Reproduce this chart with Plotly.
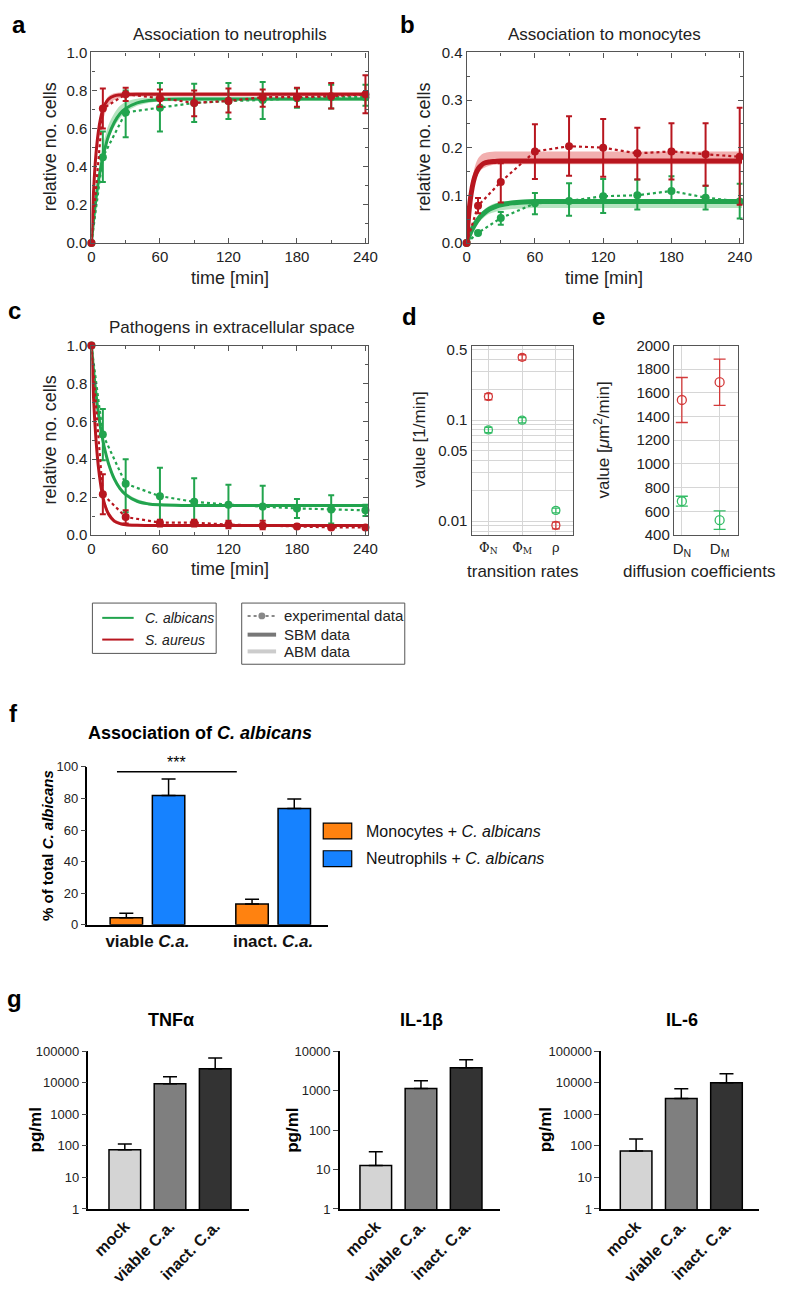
import plotly.graph_objects as go

W, H = 790, 1290
FONT = "Liberation Sans, Arial, sans-serif"

# ---------------- data ----------------
T_EXP = [0, 10, 30, 60, 90, 120, 150, 180, 210, 240]
T_MOD = [0, 2, 4, 6, 8, 10, 12, 15, 20, 25, 30, 40, 50, 60, 80, 120, 160, 200, 242]

# panel a: association to neutrophils
A_RED = [0, 0.705, 0.78, 0.76, 0.735, 0.745, 0.765, 0.765, 0.77, 0.78]
A_RED_HI = [0, 0.81, 0.815, 0.805, 0.80, 0.81, 0.805, 0.815, 0.84, 0.88]
A_RED_LO = [0, 0.60, 0.745, 0.715, 0.665, 0.685, 0.715, 0.715, 0.705, 0.68]
A_GRN = [0, 0.45, 0.685, 0.71, 0.735, 0.745, 0.75, 0.76, 0.765, 0.765]
A_GRN_HI = [0, 0.585, 0.80, 0.84, 0.835, 0.84, 0.845, 0.81, 0.83, 0.83]
A_GRN_LO = [0, 0.32, 0.555, 0.585, 0.635, 0.65, 0.65, 0.71, 0.705, 0.72]
A_RED_SBM = [0, 0.285, 0.468, 0.581, 0.654, 0.70, 0.729, 0.755, 0.772, 0.777, 0.779, 0.78, 0.78, 0.78, 0.78, 0.78, 0.78, 0.78, 0.78]
A_RED_ABM_LO = [0, 0.22, 0.39, 0.51, 0.59, 0.64, 0.68, 0.72, 0.75, 0.76, 0.765, 0.768, 0.768, 0.768, 0.768, 0.768, 0.768, 0.768, 0.768]
A_RED_ABM_HI = [0, 0.30, 0.49, 0.60, 0.67, 0.715, 0.745, 0.77, 0.785, 0.79, 0.792, 0.792, 0.792, 0.792, 0.792, 0.792, 0.792, 0.792, 0.792]
A_GRN_SBM = [0, 0.126, 0.231, 0.318, 0.389, 0.45, 0.50, 0.562, 0.632, 0.678, 0.705, 0.735, 0.747, 0.752, 0.755, 0.755, 0.755, 0.755, 0.755]
A_GRN_ABM_LO = [0, 0.12, 0.22, 0.30, 0.37, 0.43, 0.48, 0.54, 0.61, 0.655, 0.685, 0.72, 0.735, 0.742, 0.745, 0.745, 0.745, 0.745, 0.745]
A_GRN_ABM_HI = [0, 0.15, 0.27, 0.37, 0.45, 0.51, 0.56, 0.62, 0.68, 0.72, 0.74, 0.757, 0.762, 0.764, 0.765, 0.765, 0.765, 0.765, 0.765]

# panel b: association to monocytes
B_RED = [0, 0.078, 0.128, 0.192, 0.203, 0.200, 0.188, 0.192, 0.186, 0.181]
B_RED_HI = [0, 0.094, 0.167, 0.249, 0.266, 0.26, 0.242, 0.251, 0.251, 0.284]
B_RED_LO = [0, 0.062, 0.085, 0.134, 0.141, 0.139, 0.133, 0.133, 0.12, 0.08]
B_GRN = [0, 0.021, 0.052, 0.083, 0.088, 0.098, 0.100, 0.109, 0.095, 0.087]
B_GRN_HI = [0, 0.025, 0.065, 0.105, 0.125, 0.134, 0.133, 0.14, 0.12, 0.124]
B_GRN_LO = [0, 0.017, 0.038, 0.06, 0.057, 0.063, 0.07, 0.085, 0.07, 0.051]
B_RED_SBM = [0, 0.064, 0.104, 0.129, 0.145, 0.155, 0.161, 0.167, 0.170, 0.171, 0.172, 0.172, 0.172, 0.172, 0.172, 0.172, 0.172, 0.172, 0.172]
B_RED_ABM_LO = [0, 0.055, 0.092, 0.117, 0.133, 0.144, 0.151, 0.157, 0.162, 0.164, 0.165, 0.165, 0.165, 0.165, 0.165, 0.165, 0.165, 0.165, 0.165]
B_RED_ABM_HI = [0, 0.075, 0.12, 0.148, 0.166, 0.177, 0.183, 0.188, 0.191, 0.192, 0.192, 0.192, 0.192, 0.192, 0.192, 0.192, 0.192, 0.192, 0.192]
B_GRN_SBM = [0, 0.0134, 0.025, 0.034, 0.042, 0.049, 0.055, 0.062, 0.071, 0.076, 0.080, 0.084, 0.086, 0.087, 0.087, 0.087, 0.087, 0.087, 0.087]
B_GRN_ABM_LO = [0, 0.011, 0.021, 0.029, 0.036, 0.042, 0.047, 0.053, 0.061, 0.065, 0.068, 0.071, 0.072, 0.073, 0.073, 0.073, 0.073, 0.073, 0.073]
B_GRN_ABM_HI = [0, 0.016, 0.029, 0.040, 0.049, 0.056, 0.062, 0.069, 0.078, 0.083, 0.086, 0.089, 0.090, 0.091, 0.091, 0.091, 0.091, 0.091, 0.091]

# panel c: pathogens in extracellular space
C_RED = [1, 0.215, 0.095, 0.065, 0.065, 0.055, 0.05, 0.045, 0.04, 0.04]
C_RED_HI = [1, 0.32, 0.13, 0.08, 0.08, 0.075, 0.075, 0.055, 0.05, 0.05]
C_RED_LO = [1, 0.11, 0.06, 0.045, 0.045, 0.035, 0.03, 0.035, 0.03, 0.03]
C_GRN = [1, 0.53, 0.27, 0.205, 0.175, 0.16, 0.15, 0.14, 0.135, 0.13]
C_GRN_HI = [1, 0.665, 0.40, 0.355, 0.30, 0.265, 0.26, 0.19, 0.21, 0.16]
C_GRN_LO = [1, 0.395, 0.12, 0.055, 0.05, 0.055, 0.04, 0.09, 0.06, 0.1]
C_RED_SBM = [1, 0.707, 0.503, 0.365, 0.27, 0.20, 0.154, 0.11, 0.073, 0.06, 0.054, 0.051, 0.05, 0.05, 0.05, 0.05, 0.05, 0.05, 0.05]
C_RED_ABM_LO = [1, 0.69, 0.48, 0.34, 0.25, 0.185, 0.14, 0.098, 0.064, 0.052, 0.047, 0.045, 0.045, 0.045, 0.045, 0.045, 0.045, 0.045, 0.045]
C_RED_ABM_HI = [1, 0.73, 0.53, 0.39, 0.295, 0.225, 0.175, 0.128, 0.086, 0.07, 0.063, 0.059, 0.058, 0.058, 0.058, 0.058, 0.058, 0.058, 0.058]
C_GRN_SBM = [1, 0.861, 0.745, 0.648, 0.566, 0.50, 0.444, 0.376, 0.296, 0.245, 0.213, 0.178, 0.164, 0.159, 0.156, 0.155, 0.155, 0.155, 0.155]
C_GRN_ABM_LO = [1, 0.85, 0.73, 0.63, 0.55, 0.485, 0.43, 0.362, 0.285, 0.237, 0.206, 0.172, 0.158, 0.153, 0.151, 0.150, 0.150, 0.150, 0.150]
C_GRN_ABM_HI = [1, 0.87, 0.76, 0.665, 0.585, 0.52, 0.462, 0.394, 0.312, 0.26, 0.226, 0.19, 0.172, 0.167, 0.163, 0.162, 0.162, 0.162, 0.162]

# panel d: transition rates
D_TICKS = ["Φ<sub>N</sub>", "Φ<sub>M</sub>", "ρ"]
D_RED = [0.171, 0.418, 0.0091]
D_RED_ERR = [0.012, 0.025, 0.0007]
D_GRN = [0.080, 0.100, 0.0128]
D_GRN_ERR = [0.005, 0.006, 0.0007]
D_YTICKS = [0.01, 0.05, 0.1, 0.5]
D_YTICKTEXT = ["0.01", "0.05", "0.1", "0.5"]
D_GRIDVALS = [0.008, 0.009, 0.02, 0.03, 0.04, 0.06, 0.07, 0.08, 0.09, 0.2, 0.3, 0.4]

# panel e: diffusion coefficients
E_TICKS = ["D<sub>N</sub>", "D<sub>M</sub>"]
E_RED = [1540, 1690]
E_RED_ERR = [190, 195]
E_GRN = [685, 525]
E_GRN_ERR = [42, 78]

# panel f
F_CATS = ["viable", "inact"]
F_LABELS = ["<b>viable <i>C.a.</i></b>", "<b>inact. <i>C.a.</i></b>"]
F_MONO = [4.5, 13.2]
F_MONO_ERR = [2.8, 3.0]
F_NEUT = [81.8, 73.7]
F_NEUT_ERR = [10.5, 6.0]

# panel g
G_CATS = ["mock", "viable C.a.", "inact. C.a."]
G_TNF = [75, 9300, 27500]
G_TNF_HI = [115, 15500, 60000]
G_IL1 = [12.6, 1120, 3760]
G_IL1_HI = [28, 1780, 6000]
G_IL6 = [69, 3160, 10000]
G_IL6_HI = [165, 6460, 19000]
LOG_VALS = [1, 10, 100, 1000, 10000, 100000]
LOG_TXT = ["1", "10", "100", "1000", "10000", "100000"]

# ---------------- styles ----------------
RED = "#B8161F"
GRN = "#22A44E"
RED_BAND = "rgba(232,110,110,0.55)"
GRN_BAND = "rgba(120,205,140,0.55)"
D_RED_C = "#D33A3A"
D_GRN_C = "#34BC66"
AXC = "#555555"


def dx(a, b):
    return [a / W, b / W]


def dy(top, bottom):
    return [1 - bottom / H, 1 - top / H]


def px(x):
    return x / W


def py(y):
    return 1 - y / H


fig = go.Figure()


def add_time_panel(xa, ya, red, red_hi, red_lo, grn, grn_hi, grn_lo,
                   rsbm, rlo, rhi, gsbm, glo, ghi, sbm_w):
    for lo, hi, col in [(glo, ghi, GRN_BAND), (rlo, rhi, RED_BAND)]:
        fig.add_trace(go.Scatter(x=T_MOD, y=lo, xaxis=xa, yaxis=ya, mode="lines",
                                 line=dict(width=0, color=col, shape="spline"), hoverinfo="skip"))
        fig.add_trace(go.Scatter(x=T_MOD, y=hi, xaxis=xa, yaxis=ya, mode="lines",
                                 line=dict(width=0, color=col, shape="spline"), fill="tonexty",
                                 fillcolor=col, hoverinfo="skip"))
    for ys, col in [(gsbm, GRN), (rsbm, RED)]:
        fig.add_trace(go.Scatter(x=T_MOD, y=ys, xaxis=xa, yaxis=ya, mode="lines",
                                 line=dict(width=sbm_w, color=col, shape="spline")))
    for v, hi, lo, col in [(grn, grn_hi, grn_lo, GRN), (red, red_hi, red_lo, RED)]:
        fig.add_trace(go.Scatter(
            x=T_EXP, y=v, xaxis=xa, yaxis=ya, mode="lines+markers", cliponaxis=False,
            line=dict(color=col, width=2.2, dash="dot"),
            marker=dict(size=8, color=col),
            error_y=dict(type="data", symmetric=False,
                         array=[h - m for h, m in zip(hi, v)],
                         arrayminus=[m - l for m, l in zip(v, lo)],
                         color=col, thickness=2, width=3)))


add_time_panel("x", "y", A_RED, A_RED_HI, A_RED_LO, A_GRN, A_GRN_HI, A_GRN_LO,
               A_RED_SBM, A_RED_ABM_LO, A_RED_ABM_HI, A_GRN_SBM, A_GRN_ABM_LO, A_GRN_ABM_HI, 3)
add_time_panel("x2", "y2", B_RED, B_RED_HI, B_RED_LO, B_GRN, B_GRN_HI, B_GRN_LO,
               B_RED_SBM, B_RED_ABM_LO, B_RED_ABM_HI, B_GRN_SBM, B_GRN_ABM_LO, B_GRN_ABM_HI, 5)
add_time_panel("x3", "y3", C_RED, C_RED_HI, C_RED_LO, C_GRN, C_GRN_HI, C_GRN_LO,
               C_RED_SBM, C_RED_ABM_LO, C_RED_ABM_HI, C_GRN_SBM, C_GRN_ABM_LO, C_GRN_ABM_HI, 3)

for v, e, col in [(D_RED, D_RED_ERR, D_RED_C), (D_GRN, D_GRN_ERR, D_GRN_C)]:
    fig.add_trace(go.Scatter(x=[0, 1, 2], y=v, xaxis="x4", yaxis="y4", mode="markers",
                             marker=dict(symbol="circle-open", size=8, color=col, line=dict(width=1.3)),
                             error_y=dict(type="data", array=e, color=col, thickness=1.3, width=4)))
for v, e, col in [(E_RED, E_RED_ERR, D_RED_C), (E_GRN, E_GRN_ERR, D_GRN_C)]:
    fig.add_trace(go.Scatter(x=[0, 1], y=v, xaxis="x5", yaxis="y5", mode="markers",
                             marker=dict(symbol="circle-open", size=9, color=col, line=dict(width=1.3)),
                             error_y=dict(type="data", array=e, color=col, thickness=1.3, width=6)))

fig.add_trace(go.Bar(x=F_CATS, y=F_MONO, xaxis="x6", yaxis="y6", width=0.258, offset=-0.297,
                     marker=dict(color="#FF8210", line=dict(color="black", width=1.5)),
                     error_y=dict(type="data", symmetric=False, array=F_MONO_ERR, arrayminus=[0, 0],
                                  color="black", thickness=1.5, width=7)))
fig.add_trace(go.Bar(x=F_CATS, y=F_NEUT, xaxis="x6", yaxis="y6", width=0.258, offset=0.039,
                     marker=dict(color="#1682FF", line=dict(color="black", width=1.5)),
                     error_y=dict(type="data", symmetric=False, array=F_NEUT_ERR, arrayminus=[0, 0],
                                  color="black", thickness=1.5, width=7)))

G_COLORS = ["#D4D4D4", "#7F7F7F", "#333333"]
for (vals, hi), xa, ya in [((G_TNF, G_TNF_HI), "x7", "y7"), ((G_IL1, G_IL1_HI), "x8", "y8"),
                           ((G_IL6, G_IL6_HI), "x9", "y9")]:
    fig.add_trace(go.Bar(x=G_CATS, y=vals, xaxis=xa, yaxis=ya, width=0.70,
                         marker=dict(color=G_COLORS, line=dict(color="black", width=1.5)),
                         error_y=dict(type="data", symmetric=False,
                                      array=[h - v for h, v in zip(hi, vals)], arrayminus=[0, 0, 0],
                                      color="black", thickness=1.5, width=7)))

# ---------------- axes ----------------
tickf = dict(family=FONT, size=15, color="#222")


def time_x(dom, anchor):
    return dict(domain=dom, anchor=anchor, range=[0, 242.6], tickmode="array",
                tickvals=[0, 60, 120, 180, 240], ticks="inside", ticklen=5, tickcolor=AXC,
                showline=True, mirror="ticks", linecolor=AXC, linewidth=1.2, showgrid=False,
                zeroline=False, tickfont=tickf,
                minor=dict(tick0=0, dtick=30, ticks="inside", ticklen=3, tickcolor=AXC))


def time_y(dom, anchor, rng, dt, mdt, fmt):
    return dict(domain=dom, anchor=anchor, range=rng, dtick=dt, tick0=0, ticks="inside",
                ticklen=5, tickcolor=AXC, showline=True, mirror="ticks", linecolor=AXC,
                linewidth=1.2, showgrid=False, zeroline=False, tickfont=tickf, tickformat=fmt,
                minor=dict(tick0=0, dtick=mdt, ticks="inside", ticklen=3, tickcolor=AXC))


layout = dict(
    xaxis=time_x(dx(89, 371), "y"),
    yaxis=time_y(dy(44, 237), "x", [0, 1.0], 0.2, 0.1, ".1f"),
    xaxis2=time_x(dx(471, 752), "y2"),
    yaxis2=time_y(dy(44, 237), "x2", [0, 0.4], 0.1, 0.05, ".1f"),
    xaxis3=time_x(dx(89, 371), "y3"),
    yaxis3=time_y(dy(341, 533), "x3", [0, 1.0], 0.2, 0.1, ".1f"),
)

GRIDC = "#d6d6d6"
layout["xaxis4"] = dict(domain=dx(476, 579), anchor="y4", range=[-0.5, 2.5], tickmode="array",
                        tickvals=[0, 1, 2], ticktext=D_TICKS, showline=True, mirror=True,
                        linecolor=AXC, linewidth=1.2, showgrid=True, gridcolor=GRIDC,
                        zeroline=False, ticks="",
                        tickfont=dict(family="DejaVu Serif, serif", size=13, color="#222"))
layout["yaxis4"] = dict(domain=dy(341, 533), anchor="x4", type="log", range=[-2.136, -0.262],
                        tickmode="array", tickvals=D_YTICKS, ticktext=D_YTICKTEXT, showline=True,
                        mirror=True, linecolor=AXC, linewidth=1.2, showgrid=True, gridcolor=GRIDC,
                        zeroline=False, ticks="", tickfont=tickf,
                        minor=dict(tickmode="array", tickvals=D_GRIDVALS, showgrid=True,
                                   gridcolor=GRIDC, ticks=""))
layout["xaxis5"] = dict(domain=dx(682, 747), anchor="y5", range=[-0.21, 1.48], tickmode="array",
                        tickvals=[0, 1], ticktext=E_TICKS, showline=True, mirror=True,
                        linecolor=AXC, linewidth=1.2, showgrid=True, gridcolor=GRIDC,
                        zeroline=False, ticks="", tickfont=tickf)
layout["yaxis5"] = dict(domain=dy(341, 533), anchor="x5", range=[400, 2000], dtick=200,
                        showline=True, mirror=True, linecolor=AXC, linewidth=1.2, showgrid=True,
                        gridcolor=GRIDC, zeroline=False, ticks="", tickfont=tickf)

small = dict(family=FONT, size=13, color="#222")
layout["xaxis6"] = dict(domain=dx(85, 330), anchor="y6", type="category", range=[-0.477, 1.4375],
                        tickmode="array", tickvals=F_CATS, ticktext=F_LABELS, showline=True,
                        linecolor="black", linewidth=1.5, ticks="", showgrid=False, zeroline=False,
                        tickfont=dict(family=FONT, size=17, color="#111"))
layout["yaxis6"] = dict(domain=dy(768, 928), anchor="x6", range=[0, 100], dtick=20,
                        showline=True, linecolor="black", linewidth=1.5, ticks="outside",
                        ticklen=5, tickwidth=1.2, showgrid=False, zeroline=False, tickfont=small)

for i, (x0, x1, r, ymax) in zip([7, 8, 9], [(86, 249, [-0.804, 2.739], 5),
                                           (342, 505, [-0.793, 2.75], 4),
                                           (608, 769, [-0.772, 2.728], 5)]):
    layout[f"xaxis{i}"] = dict(domain=dx(x0, x1), anchor=f"y{i}", type="category", range=r,
                               showline=True, linecolor="black", linewidth=1.5, ticks="",
                               showgrid=False, zeroline=False, tickangle=-45,
                               tickmode="array", tickvals=G_CATS,
                               ticktext=[f"<b>{c}</b>" for c in G_CATS],
                               tickfont=dict(family=FONT, size=16, color="#111"))
    layout[f"yaxis{i}"] = dict(domain=dy(1056, 1216), anchor=f"x{i}", type="log", range=[0, ymax],
                               tickmode="array", tickvals=LOG_VALS[:ymax + 1],
                               ticktext=LOG_TXT[:ymax + 1], showline=True, linecolor="black",
                               linewidth=1.5, ticks="outside", ticklen=5, tickwidth=1.2,
                               showgrid=False, zeroline=False, tickfont=small)

# ---------------- annotations & shapes ----------------
ann = []
shapes = []


def text(x, y, s, size=16, angle=0, xanchor="center", color="#222", bold=False):
    ann.append(dict(x=px(x), y=py(y), xref="paper", yref="paper", text=(f"<b>{s}</b>" if bold else s),
                    showarrow=False, textangle=angle, xanchor=xanchor, yanchor="middle",
                    font=dict(family=FONT, size=size, color=color)))


for lab, x, y in [("a", 15, 16), ("b", 411, 16), ("c", 11, 306), ("d", 413, 312),
                  ("e", 605, 312), ("f", 10, 714), ("g", 11, 1003)]:
    text(x, y, lab, size=24, bold=True, color="#000")

text(230, 26, "Association to neutrophils", 17)
text(611, 26, "Association to monocytes", 17)
text(232, 323, "Pathogens in extracellular space", 17)
text(47, 140, "relative no. cells", 18, -90)
text(230, 273, "time [min]", 18)
text(428, 140, "relative no. cells", 18, -90)
text(611, 273, "time [min]", 18)
text(47, 437, "relative no. cells", 18, -90)
text(230, 567, "time [min]", 18)
text(423, 437, "value [1/min]", 17, -90)
text(528, 570, "transition rates", 17)
text(609, 437, "value [<i>μ</i>m<sup>2</sup>/min]", 17, -90)
text(708, 570, "diffusion coefficients", 17)

# legend for a-c
shapes.append(dict(type="rect", xref="paper", yref="paper", x0=px(90), x1=px(216), y0=py(602), y1=py(653),
                   line=dict(color="#555", width=1)))
shapes.append(dict(type="rect", xref="paper", yref="paper", x0=px(242), x1=px(408), y0=py(602), y1=py(664),
                   line=dict(color="#555", width=1)))
for y, col, lab in [(617, GRN, "<i>C. albicans</i>"), (639, RED, "<i>S. aureus</i>")]:
    shapes.append(dict(type="line", xref="paper", yref="paper", x0=px(100), x1=px(132), y0=py(y), y1=py(y),
                       line=dict(color=col, width=2)))
    text(141, y, lab, 14, xanchor="left")
shapes.append(dict(type="line", xref="paper", yref="paper", x0=px(248), x1=px(277), y0=py(615), y1=py(615),
                   line=dict(color="#888", width=2, dash="dot")))
shapes.append(dict(type="circle", xref="paper", yref="paper", x0=px(259), x1=px(266), y0=py(618.5),
                   y1=py(611.5), fillcolor="#888", line=dict(color="#888", width=0)))
shapes.append(dict(type="line", xref="paper", yref="paper", x0=px(248), x1=px(277), y0=py(634), y1=py(634),
                   line=dict(color="#777", width=4)))
shapes.append(dict(type="line", xref="paper", yref="paper", x0=px(248), x1=px(277), y0=py(651), y1=py(651),
                   line=dict(color="#ccc", width=4)))
text(283, 615, "experimental data", 15, xanchor="left")
text(283, 634, "SBM data", 15, xanchor="left")
text(283, 651, "ABM data", 15, xanchor="left")

# panel f
text(83, 734, "Association of <i>C. albicans</i>", 18, xanchor="left", bold=True, color="#000")
text(45, 848, "% of total <i>C. albicans</i>", 15, -90, bold=True, color="#000")
shapes.append(dict(type="line", xref="paper", yref="paper", x0=px(115), x1=px(237), y0=py(773), y1=py(773),
                   line=dict(color="black", width=1.5)))
text(176, 764, "***", 16, color="#000")
for y0, col, lab in [(825, "#FF8210", "Monocytes + <i>C. albicans</i>"),
                     (853, "#1682FF", "Neutrophils + <i>C. albicans</i>")]:
    shapes.append(dict(type="rect", xref="paper", yref="paper", x0=px(325), x1=px(354), y0=py(y0 + 16),
                       y1=py(y0), fillcolor=col, line=dict(color="black", width=1.2)))
    text(367, y0 + 8, lab, 16, xanchor="left", color="#111")

# panel g
text(170, 1025, "TNFα", 18, bold=True, color="#000")
text(425, 1025, "IL-1β", 18, bold=True, color="#000")
text(690, 1025, "IL-6", 18, bold=True, color="#000")
text(32, 1136, "pg/ml", 17, -90, bold=True, color="#000")
text(293, 1136, "pg/ml", 17, -90, bold=True, color="#000")
text(551, 1136, "pg/ml", 17, -90, bold=True, color="#000")

layout.update(dict(width=W, height=H, margin=dict(l=0, r=0, t=0, b=0), showlegend=False,
                   plot_bgcolor="white", paper_bgcolor="white", annotations=ann, shapes=shapes,
                   font=dict(family=FONT), barmode="overlay"))
fig.update_layout(**layout)
fig.write_html("out.html", config={"displayModeBar": False},
               post_script="document.body.style.margin='0';document.body.style.overflow='hidden';")
